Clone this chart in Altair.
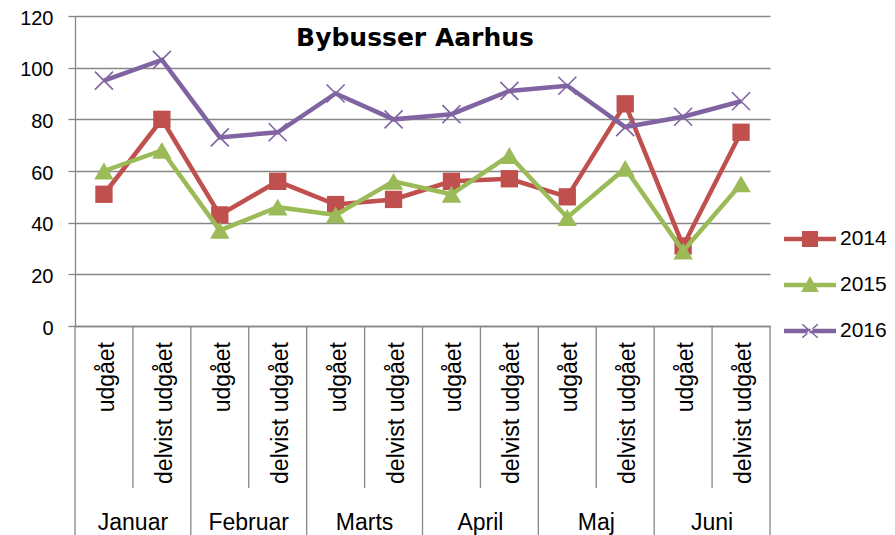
import altair as alt
import pandas as pd

title_text = "Bybusser Aarhus"
months = ["Januar", "Februar", "Marts", "April", "Maj", "Juni"]
subcats = ["udgået", "delvist udgået"]
series = ["2014", "2015", "2016"]
v2014 = [51, 80, 43, 56, 47, 49, 56, 57, 50, 86, 31, 75]
v2015 = [60, 68, 37, 46, 43, 56, 51, 66, 42, 61, 29, 55]
v2016 = [95, 103, 73, 75, 90, 80, 82, 91, 93, 77, 81, 87]
y_ticks = [0, 20, 40, 60, 80, 100, 120]

colors = ["#C0504D", "#9BBB59", "#8064A2"]
GREY = "#868686"
FONT = "Liberation Sans"
W, H = 695, 310

rows = []
for s, vals in zip(series, [v2014, v2015, v2016]):
    for i, v in enumerate(vals):
        rows.append({"idx": i, "month": months[i // 2], "sub": subcats[i % 2], "year": s, "value": v})
df = pd.DataFrame(rows)

n_cat = len(months) * len(subcats)
cat_df = pd.DataFrame({"idx": list(range(n_cat)), "sub": [subcats[i % 2] for i in range(n_cat)]})
month_df = pd.DataFrame({"idx": [2 * m + 0.5 for m in range(len(months))], "month": months})
bounds_df = pd.DataFrame({"idx": [i - 0.5 for i in range(n_cat + 1)],
                          "major": [i % 2 == 0 for i in range(n_cat + 1)]})
title_df = pd.DataFrame({"t": [title_text]})

x_enc = alt.X("idx:Q",
              scale=alt.Scale(domain=[-0.5, n_cat - 0.5], nice=False, zero=False),
              axis=alt.Axis(labels=False, ticks=False, grid=False, title=None,
                            domainColor=GREY, domainWidth=1.3))
y_enc = alt.Y("value:Q",
              scale=alt.Scale(domain=[0, 120], nice=False),
              axis=alt.Axis(values=y_ticks, title=None, grid=True, gridColor=GREY, gridWidth=1.3,
                            domainColor=GREY, domainWidth=1.3, tickColor=GREY, tickSize=7,
                            tickWidth=1.3, labelFontSize=20, labelFont=FONT, labelColor="#000",
                            labelPadding=15, labelOffset=2))

layers = []
# separators of the category axis
layers.append(alt.Chart(bounds_df).transform_filter("!datum.major").mark_rule(
    color=GREY, strokeWidth=1.3).encode(x=x_enc, y=alt.value(H), y2=alt.value(472)))
layers.append(alt.Chart(bounds_df).transform_filter("datum.major").mark_rule(
    color=GREY, strokeWidth=1.3).encode(x=x_enc, y=alt.value(H), y2=alt.value(560)))

marker_specs = [
    dict(shape="square", filled=True, size=300),
    dict(shape="triangle-up", filled=True, size=380),
    dict(shape="M-1,-1L1,1M-1,1L1,-1", filled=False, size=324, strokeWidth=1.6),
]
for s, c, ms in zip(series, colors, marker_specs):
    base = alt.Chart(df).transform_filter(alt.datum.year == s)
    layers.append(base.mark_line(color=c, strokeWidth=4.5).encode(x=x_enc, y=y_enc))
    layers.append(base.mark_point(color=c, opacity=1, **ms).encode(x=x_enc, y=y_enc))

# legend (symbols: line + marker)
bar = "M-1,-0.085H1V0.085H-1Z"
legend_paths = [
    bar + "M-0.31,-0.31H0.31V0.31H-0.31Z",
    bar + "M0,-0.35L0.34,0.27H-0.34Z",
    bar + "M-0.28,-0.283L0.32,0.237L0.28,0.283L-0.32,-0.237Z"
          "M0.28,-0.283L-0.32,0.237L-0.28,0.283L0.32,-0.237Z",
]
leg = alt.Legend(orient="none", legendX=709, legendY=200, title=None, symbolSize=2704,
                 clipHeight=46, rowPadding=0, padding=0, labelOffset=4, labelFontSize=21,
                 labelFont=FONT, labelColor="#000", symbolStrokeWidth=0, symbolOpacity=1)
layers.append(alt.Chart(df).transform_filter("datum.value < -1000").mark_point(
    filled=True, opacity=1).encode(
    x=x_enc, y=y_enc,
    color=alt.Color("year:N", scale=alt.Scale(domain=series, range=colors), legend=leg),
    shape=alt.Shape("year:N", scale=alt.Scale(domain=series, range=legend_paths), legend=leg)))

# category labels
layers.append(alt.Chart(cat_df).mark_text(angle=270, align="right", baseline="middle", dy=3,
                                          fontSize=23, font=FONT, color="#000").encode(
    x=x_enc, y=alt.value(326), text="sub:N"))
layers.append(alt.Chart(month_df).mark_text(align="center", baseline="alphabetic",
                                            fontSize=23, font=FONT, color="#000").encode(
    x=x_enc, y=alt.value(514), text="month:N"))
# title
layers.append(alt.Chart(title_df).mark_text(font="DejaVu Sans", fontSize=25, fontWeight="bold",
                                            align="center", baseline="alphabetic", color="#000").encode(
    x=alt.value(340), y=alt.value(30), text="t:N"))

chart = alt.layer(*layers).properties(
    width=W, height=H,
    autosize=alt.AutoSizeParams(type="none"),
    padding={"left": 67, "top": 8, "right": 117, "bottom": 209},
    background="white",
).configure_view(stroke=None)

chart.save("out.html", embed_options={"renderer": "svg", "actions": False})
